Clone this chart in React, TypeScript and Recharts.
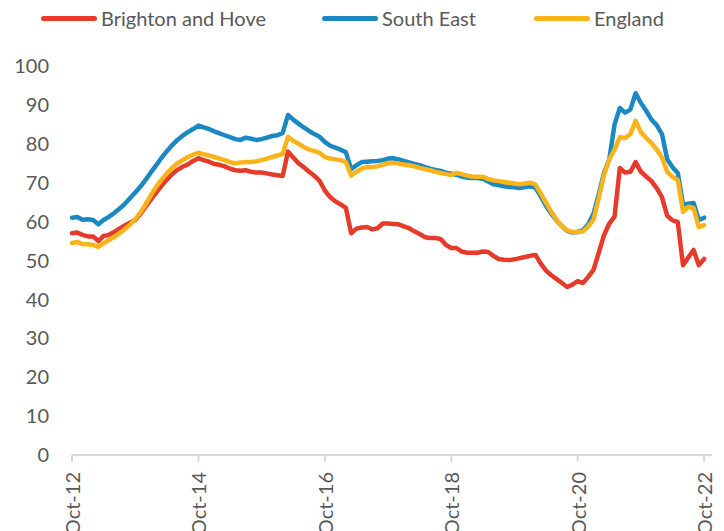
import React from 'react';
import { LineChart, Line, XAxis, YAxis, Legend } from 'recharts';

const seriesNames = ['Brighton and Hove', 'South East', 'England'];
const xTickIndex = [0, 24, 48, 72, 96, 120];
const xTickLabels = ['Oct-12', 'Oct-14', 'Oct-16', 'Oct-18', 'Oct-20', 'Oct-22'];
const yTicks = [0, 10, 20, 30, 40, 50, 60, 70, 80, 90, 100];

const brighton = [
  57, 57.2, 56.6, 56.2, 56.2, 55, 56.3, 56.6, 57.3, 58.2, 59, 59.7,
  60.4, 62, 63.9, 65.7, 67.5, 69.2, 70.8, 72.2, 73.3, 74.1, 74.7, 75.6,
  76.3, 75.8, 75.4, 74.8, 74.6, 74.2, 73.6, 73.2, 73.1, 73.2, 72.8, 72.6,
  72.6, 72.4, 72.1, 71.9, 71.7, 78, 76.5, 75, 74, 72.8, 71.8, 70.5,
  68, 66.3, 65.2, 64.4, 63.5, 57, 58.2, 58.5, 58.6, 58, 58.3, 59.5,
  59.5, 59.4, 59.3, 58.8, 58.3, 57.5, 56.8, 56, 55.8, 55.8, 55.5, 54,
  53.2, 53.2, 52.3, 52, 52, 52, 52.3, 52.2, 51.2, 50.4, 50.2, 50.1,
  50.3, 50.6, 50.9, 51.2, 51.4, 49.2, 47.4, 46.2, 45.2, 44.2, 43.2, 43.8,
  44.7, 44.2, 45.8, 47.6, 52, 56.5, 59.5, 61.3, 73.8, 72.6, 72.8, 75.3,
  72.8, 71.6, 70.4, 68.6, 66.3, 61.5, 60.3, 59.9, 48.8, 50.8, 52.7, 48.8,
  50.4,
];

const southEast = [
  61, 61.2, 60.5, 60.6, 60.4, 59.3, 60.4, 61.2, 62.2, 63.3, 64.5, 66,
  67.5, 69, 70.8, 72.7, 74.5, 76.4, 78.1, 79.6, 81, 82.1, 83, 83.8,
  84.7, 84.2, 83.8, 83.2, 82.7, 82.2, 81.7, 81.2, 81, 81.6, 81.3, 81,
  81.2, 81.6, 82, 82.2, 82.8, 87.4, 86.2, 85.2, 84.2, 83.3, 82.5, 81.8,
  80.5, 79.5, 79, 78.5, 77.8, 73.5, 74.5, 75.3, 75.4, 75.5, 75.6, 75.8,
  76.2, 76.3, 76, 75.6, 75.2, 74.8, 74.5, 74, 73.6, 73.3, 73, 72.6,
  72.3, 72, 71.6, 71.3, 71.2, 71.2, 71, 70.3, 69.6, 69.4, 69.1, 68.9,
  68.8, 68.6, 68.9, 69.1, 68.7, 66.5, 64, 62, 60.3, 58.8, 57.6, 57.2,
  57.3, 57.8, 59.3, 62, 67, 72.5, 76, 85, 89.2, 88, 88.8, 93,
  90.5, 88.5, 86.2, 84.8, 82.5, 76, 74, 72.5, 64.3, 64.6, 64.8, 60.4,
  61,
];

const england = [
  54.5, 54.8, 54.2, 54.2, 54, 53.5, 54.4, 55.3, 56, 57, 58, 59.2,
  60.6, 62.4, 64.5, 66.8, 69, 70.8, 72.4, 73.8, 75, 75.8, 76.6, 77.2,
  77.7, 77.3, 77, 76.6, 76.2, 75.8, 75.3, 75, 75.2, 75.3, 75.3, 75.5,
  75.8, 76.2, 76.6, 77, 77.4, 81.8, 80.8, 80, 79.2, 78.5, 78.1, 77.7,
  76.6, 76.2, 76, 75.8, 75.3, 71.8, 72.8, 73.6, 74, 74, 74.2, 74.6,
  75, 75.1, 74.9, 74.7, 74.5, 74.2, 73.8, 73.5, 73.2, 72.8, 72.5, 72.2,
  72, 72.5, 72.2, 71.8, 71.6, 71.5, 71.5, 71, 70.6, 70.4, 70.2, 70,
  69.8, 69.6, 69.8, 70, 69.5, 67.2, 64.8, 62.5, 60.5, 58.8, 57.8, 57.3,
  57.3, 57.5, 58.8, 60.5, 66, 72, 76, 78.5, 81.7, 81.5, 82.5, 85.9,
  83, 81.5, 80.2, 78.5, 76.5, 72.8, 71.5, 70.7, 62.5, 63.8, 63.5, 58.6,
  59.1,
];

const RED = '#E63A2B';
const BLUE = '#1B88C1';
const YELLOW = '#FBB31B';
const TEXT = '#595959';
const FONT = 'Lato, "Open Sans", sans-serif';

const data = brighton.map((v, i) => ({
  i,
  brighton: v,
  southEast: southEast[i],
  england: england[i],
}));

const XTick = (props: any) => {
  const { x, y, payload } = props;
  const idx = xTickIndex.indexOf(payload.value);
  return (
    <text
      x={x}
      y={y}
      transform={`rotate(-90, ${x}, ${y})`}
      textAnchor="end"
      dominantBaseline="central"
      fill={TEXT}
      fontSize={20}
      fontFamily={FONT}
    >
      {idx >= 0 ? xTickLabels[idx] : ''}
    </text>
  );
};

const legendColors = [RED, BLUE, YELLOW];
const legendX = [41, 322, 534];

const LegendContent = () => (
  <div style={{ position: 'relative', width: 724, height: 40 }}>
    {seriesNames.map((name, k) => (
      <div
        key={name}
        style={{
          position: 'absolute',
          left: legendX[k],
          top: 6,
          display: 'flex',
          alignItems: 'center',
          fontFamily: FONT,
          fontSize: 20,
          color: TEXT,
          whiteSpace: 'nowrap',
        }}
      >
        <span
          style={{
            display: 'inline-block',
            width: 56,
            height: 5,
            borderRadius: 3,
            background: legendColors[k],
            marginRight: 4,
          }}
        />
        <span>{name}</span>
      </div>
    ))}
  </div>
);

export default function App() {
  return (
    <div style={{ position: 'absolute', left: 0, top: 0, width: 724, height: 531, background: '#fff' }}>
      <LineChart
        width={724}
        height={531}
        data={data}
        margin={{ top: 26, right: 12, bottom: 0, left: 0 }}
      >
        <Legend
          verticalAlign="top"
          align="left"
          content={<LegendContent />}
          wrapperStyle={{ top: 0, left: 0, width: 724, height: 40, margin: 0, padding: 0 }}
        />
        <XAxis
          dataKey="i"
          type="number"
          domain={[0, 121.5]}
          ticks={xTickIndex}
          interval={0}
          height={76}
          tickSize={7}
          tickMargin={10}
          tick={<XTick />}
          axisLine={{ stroke: '#D9D9D9', strokeWidth: 2 }}
          tickLine={{ stroke: '#D9D9D9', strokeWidth: 2 }}
        />
        <YAxis
          type="number"
          domain={[0, 100]}
          ticks={yTicks}
          width={72}
          tickSize={0}
          tickMargin={23}
          axisLine={false}
          tickLine={false}
          tick={{ fill: TEXT, fontSize: 20, fontFamily: FONT }}
        />
        <Line
          dataKey="brighton"
          name={seriesNames[0]}
          stroke={RED}
          strokeWidth={4.5}
          dot={false}
          isAnimationActive={false}
          strokeLinejoin="round"
          strokeLinecap="round"
        />
        <Line
          dataKey="southEast"
          name={seriesNames[1]}
          stroke={BLUE}
          strokeWidth={4.5}
          dot={false}
          isAnimationActive={false}
          strokeLinejoin="round"
          strokeLinecap="round"
        />
        <Line
          dataKey="england"
          name={seriesNames[2]}
          stroke={YELLOW}
          strokeWidth={4.5}
          dot={false}
          isAnimationActive={false}
          strokeLinejoin="round"
          strokeLinecap="round"
        />
      </LineChart>
    </div>
  );
}
